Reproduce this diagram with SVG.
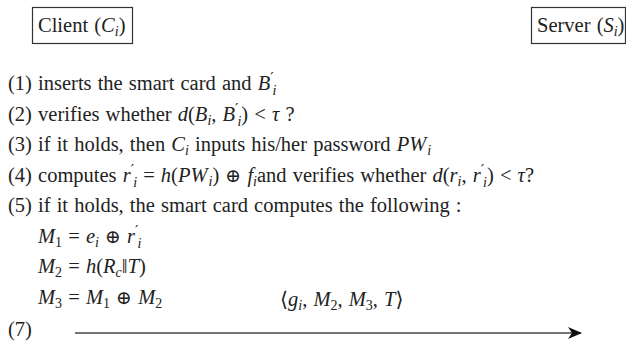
<svg xmlns="http://www.w3.org/2000/svg" width="626" height="347" viewBox="0 0 626 347">
<style>
.t{font-family:"Liberation Serif","Times New Roman","DejaVu Serif",serif;font-size:20.5px;fill:#222;word-spacing:1px}
.m{font-style:italic}
.s{font-size:14px}
.p{font-size:15px;font-family:"DejaVu Serif",serif}
.o{font-family:"DejaVu Serif",serif;font-size:19px}
.box{fill:none;stroke:#333;stroke-width:1.2}
.conn{stroke:#444;stroke-width:1.6;fill:none}
</style>
<defs>
<marker id="ah" viewBox="0 0 14 12" refX="13" refY="6" markerWidth="14" markerHeight="12" markerUnits="userSpaceOnUse" orient="auto">
<path d="M14,6 L0,0 L4,6 L0,12 Z" fill="#111"/>
</marker>
</defs>
<rect width="626" height="347" fill="#fff"/>
<g id="client">
<rect class="box" x="32.5" y="7.5" width="100" height="36"/>
<text class="t" x="38" y="32">Client (<tspan class="m">C</tspan><tspan class="s m" dy="4">i</tspan><tspan dy="-4">)</tspan></text>
</g>
<g id="server">
<rect class="box" x="531.5" y="7.5" width="94" height="36"/>
<text class="t" x="537" y="32">Server (<tspan class="m">S</tspan><tspan class="s m" dy="4">i</tspan><tspan dy="-4">)</tspan></text>
</g>
<g id="steps">
<text class="t" x="8" y="90">(1) inserts the smart card and <tspan class="m">B</tspan><tspan class="p" dy="-7">′</tspan><tspan class="s m" dx="-1" dy="12">i</tspan></text>
<text class="t" x="8" y="120.5">(2) verifies whether <tspan class="m">d</tspan>(<tspan class="m">B</tspan><tspan class="s m" dy="4">i</tspan><tspan dy="-4">, </tspan><tspan class="m">B</tspan><tspan class="p" dy="-7">′</tspan><tspan class="s m" dx="-1" dy="12">i</tspan><tspan dy="-5">) &lt; </tspan><tspan class="m">τ</tspan> ?</text>
<text class="t" x="8" y="151">(3) if it holds,  then <tspan class="m">C</tspan><tspan class="s m" dy="4">i</tspan><tspan dy="-4"> inputs his/her password </tspan><tspan class="m">PW</tspan><tspan class="s m" dx="1" dy="4">i</tspan></text>
<text class="t" x="8" y="181.5">(4) computes <tspan class="m">r</tspan><tspan class="p" dy="-7">′</tspan><tspan class="s m" dx="-1" dy="12">i</tspan><tspan dy="-5"> = </tspan><tspan class="m">h</tspan>(<tspan class="m">PW</tspan><tspan class="s m" dx="1" dy="4">i</tspan><tspan dy="-4">) </tspan><tspan class="o">⊕</tspan> <tspan class="m">f</tspan><tspan class="s m" dy="4">i</tspan><tspan dy="-4">and verifies whether </tspan><tspan class="m">d</tspan>(<tspan class="m">r</tspan><tspan class="s m" dy="4">i</tspan><tspan dy="-4">, </tspan><tspan class="m">r</tspan><tspan class="p" dy="-7">′</tspan><tspan class="s m" dx="-1" dy="12">i</tspan><tspan dy="-5">) &lt; </tspan><tspan class="m">τ</tspan>?</text>
<text class="t" x="8" y="212">(5) if it holds,  the smart card computes the following :</text>
<text class="t" x="38" y="242.5"><tspan class="m">M</tspan><tspan class="s" dy="4">1</tspan><tspan dy="-4"> = </tspan><tspan class="m">e</tspan><tspan class="s m" dy="4">i</tspan><tspan dy="-4"> </tspan><tspan class="o">⊕</tspan> <tspan class="m">r</tspan><tspan class="p" dy="-7">′</tspan><tspan class="s m" dx="-1" dy="12">i</tspan></text>
<text class="t" x="38" y="273"><tspan class="m">M</tspan><tspan class="s" dy="4">2</tspan><tspan dy="-4"> = </tspan><tspan class="m">h</tspan>(<tspan class="m">R</tspan><tspan class="s m" dy="4">c</tspan><tspan dy="-4">‖</tspan><tspan class="m">T</tspan>)</text>
<text class="t" x="38" y="303.5"><tspan class="m">M</tspan><tspan class="s" dy="4">3</tspan><tspan dy="-4"> = </tspan><tspan class="m">M</tspan><tspan class="s" dy="4">1</tspan><tspan dy="-4"> </tspan><tspan class="o">⊕</tspan> <tspan class="m">M</tspan><tspan class="s" dy="4">2</tspan></text>
<text class="t" x="8" y="336">(7)</text>
</g>
<g id="connectors">
<line class="conn" x1="75" y1="333" x2="581" y2="333" marker-end="url(#ah)"/>
<text class="t" x="280" y="306">⟨<tspan class="m">g</tspan><tspan class="s m" dy="4">i</tspan><tspan dy="-4">, </tspan><tspan class="m">M</tspan><tspan class="s" dy="4">2</tspan><tspan dy="-4">, </tspan><tspan class="m">M</tspan><tspan class="s" dy="4">3</tspan><tspan dy="-4">, </tspan><tspan class="m">T</tspan>⟩</text>
</g>
</svg>
